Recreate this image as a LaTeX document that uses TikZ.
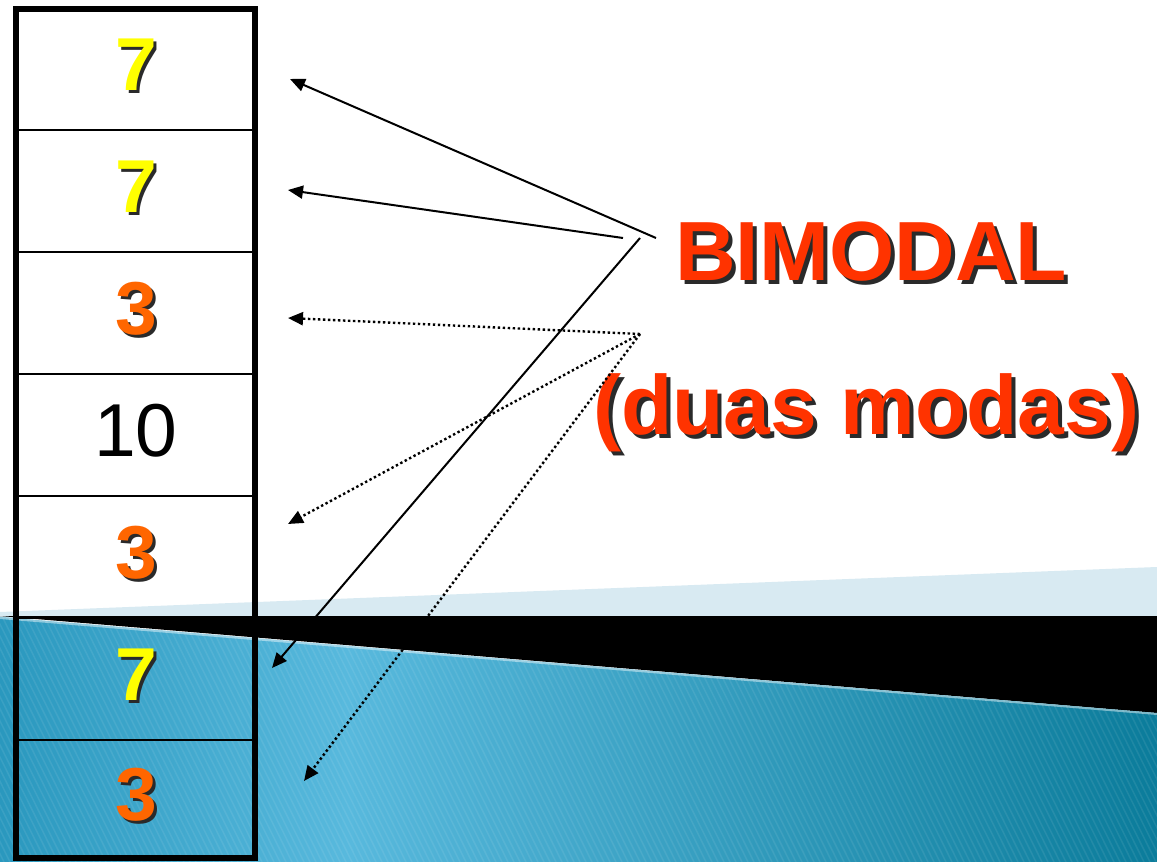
\documentclass[tikz,border=0pt]{standalone}
\usepackage{fontspec}
\setmainfont{Liberation Sans}
\usetikzlibrary{arrows.meta}
\definecolor{tA}{HTML}{2A98BE}
\definecolor{tB}{HTML}{58B9DD}
\definecolor{tC}{HTML}{0B7C9B}
\definecolor{bandblue}{HTML}{D8EAF2}
\definecolor{redorange}{HTML}{FF3300}
\definecolor{numorange}{HTML}{FF6600}
\definecolor{numyellow}{HTML}{FFFF00}
\definecolor{shadowcol}{HTML}{2A2A2A}
\pgfdeclarehorizontalshading{tealsh}{100bp}{color(0bp)=(tA); color(25bp)=(tA); color(40bp)=(tB); color(75bp)=(tC); color(100bp)=(tC)}
% text with a drop shadow, in one node
\newcommand{\shadowed}[3]{\makebox[0pt][l]{\hspace{#1}\raisebox{-#1}{\textcolor{shadowcol}{#3}}}\textcolor{#2}{#3}}
\tikzset{
  numfont/.style={font=\fontsize{75}{80}\selectfont\bfseries, inner sep=0pt, anchor=base},
  plainnum/.style={font=\fontsize{75}{80}\selectfont, inner sep=0pt, anchor=base},
  bigfont/.style={font=\fontsize{84}{90}\selectfont\bfseries, inner sep=0pt, anchor=base west},
  solidarrow/.style={line width=2pt, -{Triangle[length=15pt,width=13pt]}},
  dotarrow/.style={line width=2.4pt, dash pattern=on 2.4pt off 2.6pt, -{Triangle[length=15pt,width=13pt]}},
  cellline/.style={line width=2.5pt},
  outerline/.style={line width=6pt},
}
\begin{document}
\begin{tikzpicture}[x=1pt,y=-1pt]
\useasboundingbox (0,0) rectangle (1157,862);
\fill[white] (0,0) rectangle (1157,862);
% background bands
\fill[bandblue] (0,612) -- (1157,567) -- (1157,618) -- (0,618) -- cycle;
\fill[black] (0,616) -- (1157,616) -- (1157,713) -- cycle;
\begin{scope}
  \clip (0,617) -- (1157,713) -- (1157,862) -- (0,862) -- cycle;
  \shade[shading=tealsh] (0,600) rectangle (1157,862);
  \foreach \i in {-300,-294,...,1160}
    \draw[white, opacity=0.08, line width=1.5pt] (\i,600) -- (\i+130,862);
  \draw[white, opacity=0.45, line width=2pt] (0,618) -- (1157,714);
\end{scope}
% column
\foreach \y in {130,252,374,496,618,740}
  \draw[cellline] (16,\y) -- (255,\y);
\draw[outerline] (16,9) rectangle (255,858);
% numbers
\node[numfont] (n1) at (136,90.5) {\shadowed{3pt}{numyellow}{7}};
\node[numfont] (n2) at (136,212) {\shadowed{3pt}{numyellow}{7}};
\node[numfont] (n3) at (136,334) {\shadowed{3pt}{numorange}{3}};
\node[plainnum] (n4) at (136,456) {10};
\node[numfont] (n5) at (136,578) {\shadowed{3pt}{numorange}{3}};
\node[numfont] (n6) at (136,700) {\shadowed{3pt}{numyellow}{7}};
\node[numfont] (n7) at (136,820) {\shadowed{3pt}{numorange}{3}};
% labels
\node[bigfont] (bimodal) at (675,280) {\shadowed{4pt}{redorange}{BIMODAL}};
\node[bigfont] (duas) at (593,434) {\shadowed{4pt}{redorange}{(duas modas)}};
% connector coordinates
\coordinate (s1) at (656,238);
\coordinate (s2) at (623,238);
\coordinate (s3) at (640,238);
\coordinate (d0) at (640,334);
\coordinate (t1) at (290,79);
\coordinate (t2) at (288,190);
\coordinate (t6) at (272,668);
\coordinate (t3) at (288,318);
\coordinate (t5) at (288,524);
\coordinate (t7) at (304,781);
\draw[solidarrow] (s1) -- (t1);
\draw[solidarrow] (s2) -- (t2);
\draw[solidarrow] (s3) -- (t6);
\draw[dotarrow] (d0) -- (t3);
\draw[dotarrow] (d0) -- (t5);
\draw[dotarrow] (d0) -- (t7);
\end{tikzpicture}
\end{document}
